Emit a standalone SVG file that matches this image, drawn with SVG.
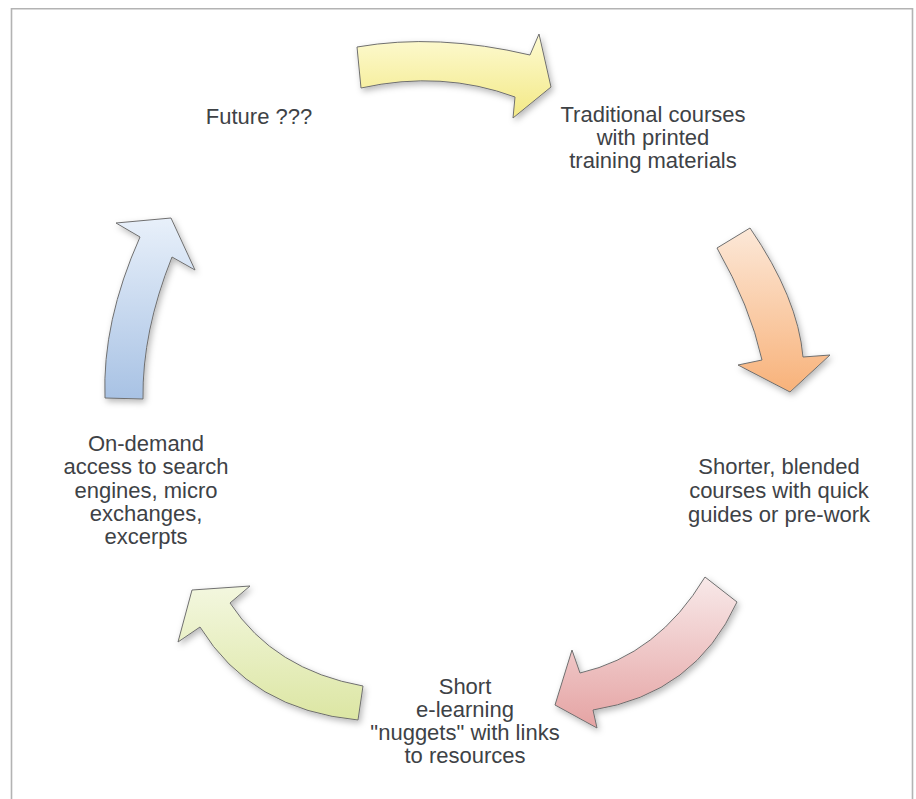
<svg xmlns="http://www.w3.org/2000/svg" width="916" height="799" viewBox="0 0 916 799">
  <style>
    .frame { fill: none; stroke: #b3b3b3; stroke-width: 1.6; }
    .arrow { stroke: #6f6f6f; stroke-width: 1; stroke-linejoin: miter; filter: url(#soft); }
    .label { font-family: "Liberation Sans", Arial, sans-serif; font-size: 22px; fill: #3e4246; text-anchor: middle; }
  </style>
  <defs>
    <filter id="soft" x="-20%" y="-20%" width="150%" height="150%">
      <feDropShadow dx="2" dy="3" stdDeviation="3" flood-color="#000" flood-opacity="0.28"/>
    </filter>
    <linearGradient id="gYellow" x1="0" y1="0" x2="0" y2="1">
      <stop offset="0" stop-color="#fdfad2"/>
      <stop offset="1" stop-color="#f3e985"/>
    </linearGradient>
    <linearGradient id="gOrange" x1="0" y1="0" x2="0" y2="1">
      <stop offset="0" stop-color="#fce8d8"/>
      <stop offset="1" stop-color="#f8b27a"/>
    </linearGradient>
    <linearGradient id="gPink" x1="0" y1="0" x2="0" y2="1">
      <stop offset="0" stop-color="#f8e9e9"/>
      <stop offset="1" stop-color="#e5a3a3"/>
    </linearGradient>
    <linearGradient id="gGreen" x1="0" y1="0" x2="0" y2="1">
      <stop offset="0" stop-color="#f3f7df"/>
      <stop offset="1" stop-color="#dce6a3"/>
    </linearGradient>
    <linearGradient id="gBlue" x1="0" y1="0" x2="0" y2="1">
      <stop offset="0" stop-color="#e8f0fa"/>
      <stop offset="1" stop-color="#a8c2e4"/>
    </linearGradient>
  </defs>

  <rect width="916" height="799" fill="#ffffff"/>
  <!-- page frame: open at the bottom -->
  <path class="frame" d="M11.5,799 L11.5,8.8 L912.5,8.8 L912.5,799"/>

  <!-- curved cycle arrows -->
  <g id="connectors">
    <path id="arrow-top" class="arrow" fill="url(#gYellow)"
          d="M357,47 Q437,33 530,55 L539,34 L551,87 L513,118 L515,97 Q442,70 361,88 Z"/>
    <path id="arrow-right" class="arrow" fill="url(#gOrange)"
          d="M717,248 L750,228 Q798,298 803,357 L830,355 L790,392 L738,365 L762,360 Q750,306 717,248 Z"/>
    <path id="arrow-lower-right" class="arrow" fill="url(#gPink)"
          d="M705,577 L737,602 Q695,694 593,710 L597,728 L555,705 L572,650 L580,673 Q658,655 705,577 Z"/>
    <path id="arrow-lower-left" class="arrow" fill="url(#gGreen)"
          d="M363,686 Q274,670 230,603 L250,586 L192,590 L178,642 L200,627 Q251,710 358,720 Z"/>
    <path id="arrow-left" class="arrow" fill="url(#gBlue)"
          d="M105,398 Q102,322 140,237 L116,223 L171,218 L195,270 L172,257 Q142,332 143,399 Z"/>
  </g>

  <!-- stage labels -->
  <g id="node-future">
    <text class="label" x="259" y="124">Future ???</text>
  </g>
  <g id="node-traditional">
    <text class="label" x="653" y="122">Traditional courses</text>
    <text class="label" x="653" y="145">with printed</text>
    <text class="label" x="653" y="168">training materials</text>
  </g>
  <g id="node-blended">
    <text class="label" x="779" y="474">Shorter, blended</text>
    <text class="label" x="779" y="498">courses with quick</text>
    <text class="label" x="779" y="522">guides or pre-work</text>
  </g>
  <g id="node-elearning">
    <text class="label" x="465" y="694">Short</text>
    <text class="label" x="465" y="717">e-learning</text>
    <text class="label" x="465" y="740">"nuggets" with links</text>
    <text class="label" x="465" y="763">to resources</text>
  </g>
  <g id="node-ondemand">
    <text class="label" x="146" y="451">On-demand</text>
    <text class="label" x="146" y="474">access to search</text>
    <text class="label" x="146" y="498">engines, micro</text>
    <text class="label" x="146" y="521">exchanges,</text>
    <text class="label" x="146" y="544">excerpts</text>
  </g>
</svg>
